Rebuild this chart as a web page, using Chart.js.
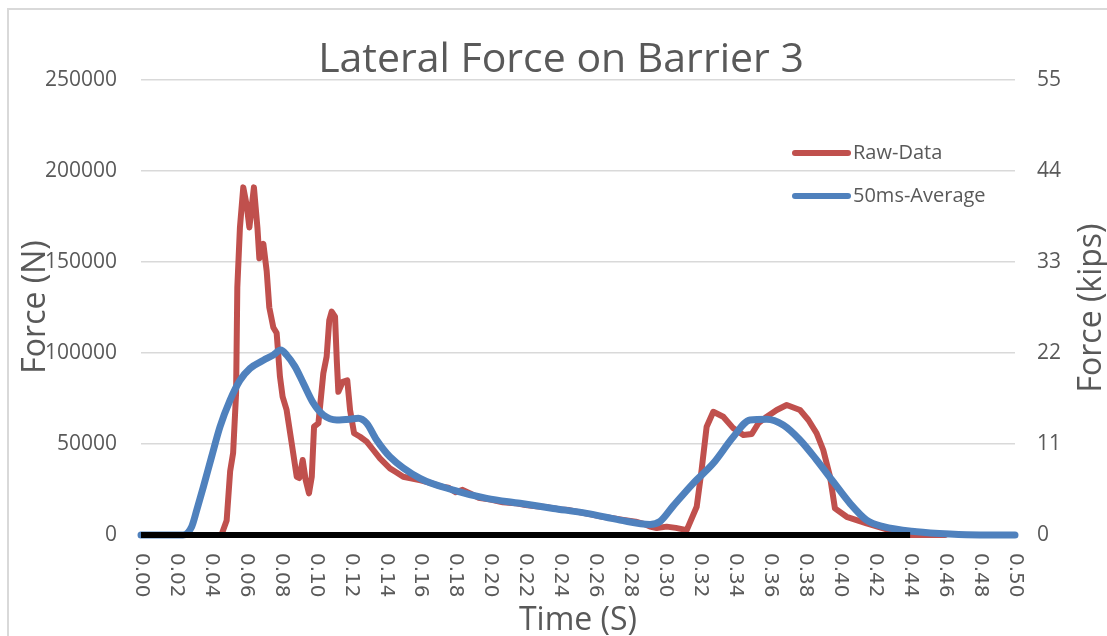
<!DOCTYPE html>
<html>
<head>
<meta charset="utf-8">
<script src="https://cdn.jsdelivr.net/npm/chart.js@4.4.0/dist/chart.umd.min.js"></script>
<style>
  html, body { margin: 0; padding: 0; background: #fff; }
  canvas { display: block; }
</style>
</head>
<body>
<canvas id="forceChart" width="1107" height="636"></canvas>
<script>
// Время (с) и сила (Н)
const rawTime = [0, 0.046, 0.049, 0.051, 0.0527, 0.0544, 0.0551, 0.0566, 0.0585, 0.0605,
    0.062, 0.0646, 0.0666, 0.0677, 0.070, 0.0719, 0.0734, 0.0757, 0.0776, 0.0795,
    0.081, 0.0833, 0.0862, 0.0891, 0.0906, 0.0925, 0.0942, 0.0961, 0.0977, 0.099,
    0.1015, 0.1043, 0.1062, 0.1077, 0.1091, 0.111, 0.112, 0.1129, 0.1154, 0.118,
    0.1196, 0.1219, 0.1253, 0.1291, 0.1329, 0.1367, 0.1424, 0.146, 0.150, 0.155,
    0.160, 0.166, 0.172, 0.176, 0.180, 0.184, 0.188, 0.193, 0.200, 0.207,
    0.214, 0.220, 0.226, 0.233, 0.240, 0.245, 0.252, 0.258, 0.264, 0.270,
    0.276, 0.283, 0.288, 0.2912, 0.295, 0.3007, 0.306, 0.3122, 0.3179, 0.3207,
    0.3236, 0.3274, 0.3331, 0.3389, 0.3446, 0.3494, 0.3532, 0.358, 0.3637, 0.3694,
    0.377, 0.3818, 0.3865, 0.3903, 0.3942, 0.397, 0.4037, 0.4151, 0.4247, 0.4342,
    0.44, 0.46];
const rawForce = [0, 0, 8000, 35000, 45000, 78000, 136000, 169000, 191000, 181000,
    169000, 191000, 169000, 152000, 160000, 145000, 125000, 114000, 111000, 87000,
    76000, 68700, 50500, 32000, 31300, 41200, 30200, 22900, 32000, 59500,
    61400, 88800, 98000, 118000, 122700, 120000, 96000, 78700, 84200, 85000,
    68700, 55900, 54000, 51300, 46700, 42100, 36600, 34500, 32000, 31000,
    30000, 28500, 26500, 26000, 23500, 24800, 23000, 20500, 19500, 18000,
    17500, 16500, 15800, 15200, 14000, 13700, 12300, 11200, 10000, 9200,
    8300, 7300, 6000, 4600, 3800, 4600, 3900, 2700, 15500, 35700,
    59500, 67700, 65000, 58600, 54900, 55500, 61400, 65000, 68700, 71400,
    68700, 63200, 55900, 46700, 32000, 14600, 10000, 6400, 3700, 900,
    0, 0];

const avgTime = [0, 0.024, 0.029, 0.0319, 0.0357, 0.0404, 0.0452, 0.0509, 0.0566, 0.0624,
    0.070, 0.0757, 0.0799, 0.0833, 0.0881, 0.0929, 0.0986, 0.1043, 0.112, 0.1196,
    0.1243, 0.1291, 0.1348, 0.1424, 0.1596, 0.1787, 0.1978, 0.2168, 0.2359, 0.255,
    0.274, 0.2912, 0.297, 0.3045, 0.3159, 0.3274, 0.3389, 0.3484, 0.358, 0.3674,
    0.377, 0.3865, 0.396, 0.4056, 0.4151, 0.4247, 0.4437, 0.4628, 0.48, 0.50];
const avgForce = [0, 0, 4600, 13700, 26500, 43000, 59500, 74000, 85000, 91600,
    96000, 98900, 101600, 98900, 92500, 83300, 72400, 65900, 63200, 63600,
    64100, 61400, 52200, 43000, 31100, 24700, 20100, 17400, 14600, 11900,
    8200, 5800, 7500, 16000, 28400, 39400, 54000, 63200, 63600, 60400,
    52200, 41200, 29300, 17400, 8200, 4600, 1800, 500, 0, 0];

// Черная линия нуля
const baseTime = [0, 0.44];
const baseForce = [0, 0];

const timeTicks = ['0.00', '0.02', '0.04', '0.06', '0.08', '0.10', '0.12', '0.14', '0.16',
    '0.18', '0.20', '0.22', '0.24', '0.26', '0.28', '0.30', '0.32', '0.34', '0.36',
    '0.38', '0.40', '0.42', '0.44', '0.46', '0.48', '0.50'];

const chartTitle = 'Lateral Force on Barrier 3';
const xTitle = 'Time (S)';
const yTitle = 'Force (N)';
const y2Title = 'Force (kips)';

const textColor = '#595959';

function toPoints(xs, ys) {
    return xs.map((x, i) => ({ x: x, y: ys[i] }));
}

// Рамка, заголовки, подписи оси X и легенда
const decorPlugin = {
    id: 'decor',
    beforeDraw(chart) {
        const c = chart.ctx;
        c.save();
        c.fillStyle = '#fff';
        c.fillRect(0, 0, chart.width, chart.height);
        c.strokeStyle = '#d9d9d9';
        c.lineWidth = 2;
        c.strokeRect(8, 9, chart.width + 20, chart.height + 20);
        c.restore();
    },
    afterDraw(chart) {
        const c = chart.ctx;
        const xs = chart.scales.x;
        const area = chart.chartArea;
        c.save();
        c.fillStyle = textColor;

        // заголовок
        c.font = '41px "Open Sans"';
        c.textAlign = 'center';
        c.textBaseline = 'alphabetic';
        c.fillText(chartTitle, 561, 72);

        // подпись оси X
        c.font = '32px "Open Sans"';
        c.fillText(xTitle, (area.left + area.right) / 2, 630);

        // подписи осей Y (снизу вверх)
        c.save();
        c.translate(45, 307);
        c.rotate(-Math.PI / 2);
        c.fillText(yTitle, 0, 0);
        c.restore();

        c.save();
        c.translate(1101, 308);
        c.rotate(-Math.PI / 2);
        c.fillText(y2Title, 0, 0);
        c.restore();

        // подписи делений X, повернуты по часовой
        c.font = '20px "DejaVu Sans"';
        c.textAlign = 'left';
        c.textBaseline = 'middle';
        timeTicks.forEach(label => {
            const px = xs.getPixelForValue(parseFloat(label));
            c.save();
            c.translate(px, 553);
            c.rotate(Math.PI / 2);
            c.fillText(label, 0, 0);
            c.restore();
        });

        // легенда
        c.font = '20px "Open Sans"';
        const rows = [153, 196];
        chart.data.datasets.slice(0, 2).forEach((ds, i) => {
            c.strokeStyle = ds.borderColor;
            c.lineWidth = 6;
            c.lineCap = 'round';
            c.beginPath();
            c.moveTo(795, rows[i]);
            c.lineTo(848, rows[i]);
            c.stroke();
            c.fillText(ds.label, 853, rows[i]);
        });
        c.restore();
    }
};

const ctx = document.getElementById('forceChart').getContext('2d');

new Chart(ctx, {
    type: 'line',
    data: {
        datasets: [{
            label: 'Raw-Data',
            data: toPoints(rawTime, rawForce),
            borderColor: '#C0504D',
            borderWidth: 6,
            pointRadius: 0,
            tension: 0,
            borderJoinStyle: 'round',
            borderCapStyle: 'round',
            clip: false,
            order: 2
        }, {
            label: '50ms-Average',
            data: toPoints(avgTime, avgForce),
            borderColor: '#4F81BD',
            borderWidth: 7,
            pointRadius: 0,
            cubicInterpolationMode: 'monotone',
            borderJoinStyle: 'round',
            borderCapStyle: 'round',
            clip: false,
            order: 1
        }, {
            label: 'zero',
            data: toPoints(baseTime, baseForce),
            borderColor: '#000000',
            borderWidth: 6,
            pointRadius: 0,
            clip: false,
            order: 0
        }]
    },
    options: {
        responsive: false,
        animation: false,
        layout: { padding: { top: 80, left: 0, right: 0, bottom: 0 } },
        plugins: {
            legend: { display: false },
            title: { display: false },
            tooltip: { enabled: false }
        },
        scales: {
            x: {
                type: 'linear',
                min: 0,
                max: 0.5,
                ticks: { display: false, stepSize: 0.02 },
                grid: { display: false },
                border: { display: false },
                afterFit: s => { s.height = 101; }
            },
            y: {
                position: 'left',
                min: 0,
                max: 250000,
                ticks: {
                    stepSize: 50000,
                    padding: 24,
                    color: textColor,
                    font: { family: 'Open Sans', size: 21 },
                    callback: v => String(v)
                },
                grid: { color: '#d9d9d9', lineWidth: 1.5, drawTicks: false },
                border: { display: false },
                afterFit: s => { s.width = 141; }
            },
            y2: {
                position: 'right',
                min: 0,
                max: 55,
                ticks: {
                    stepSize: 11,
                    padding: 22,
                    color: textColor,
                    font: { family: 'Open Sans', size: 21 }
                },
                grid: { display: false, drawTicks: false },
                border: { display: false },
                afterFit: s => { s.width = 92; }
            }
        }
    },
    plugins: [decorPlugin]
});
</script>
</body>
</html>
